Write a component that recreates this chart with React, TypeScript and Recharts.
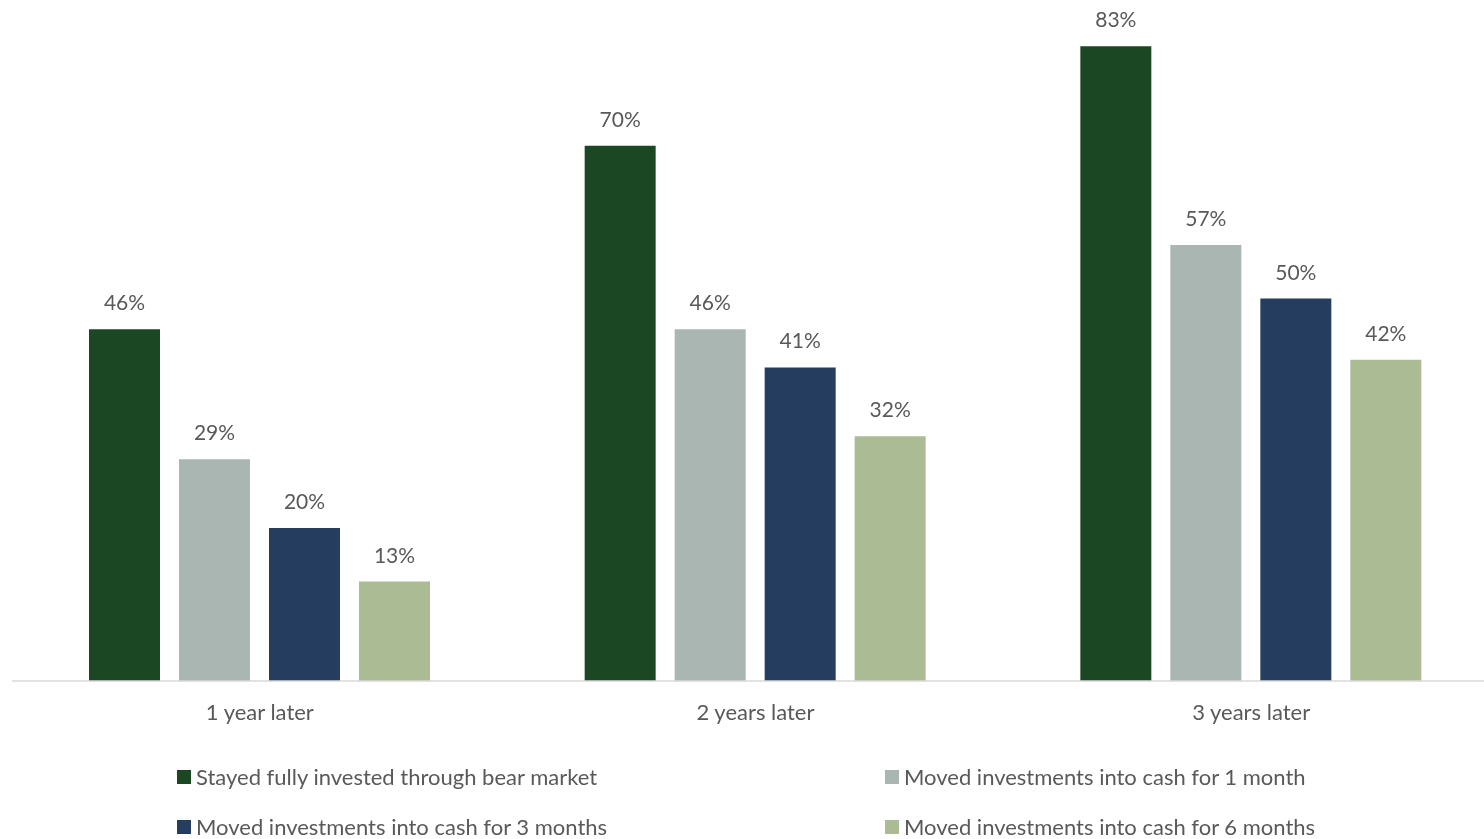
import { BarChart, Bar, XAxis, YAxis, LabelList } from 'recharts'

const categories = ['1 year later', '2 years later', '3 years later']
const stayedInvested = [46, 70, 83]
const cashOneMonth = [29, 46, 57]
const cashThreeMonths = [20, 41, 50]
const cashSixMonths = [13, 32, 42]

const SERIES = [
  { key: 'stayed', name: 'Stayed fully invested through bear market', color: '#1b4723', values: stayedInvested },
  { key: 'one', name: 'Moved investments into cash for 1 month', color: '#aab6b1', values: cashOneMonth },
  { key: 'three', name: 'Moved investments into cash for 3 months', color: '#253e5f', values: cashThreeMonths },
  { key: 'six', name: 'Moved investments into cash for 6 months', color: '#abbb94', values: cashSixMonths },
]

const data = categories.map((name, i) => {
  const row: Record<string, string | number> = { name }
  SERIES.forEach((s) => {
    row[s.key] = s.values[i]
  })
  return row
})

const FONT = 'Lato, "Open Sans", sans-serif'
const TEXT = '#595959'

export default function App() {
  return (
    // chart runs past the window edge on purpose, like the cropped original
    <div style={{ position: 'fixed', left: 8, top: 8, width: 1491, height: 840, fontFamily: FONT }}>
      <style>{'html { overflow: hidden; }'}</style>
      <BarChart
        width={1491}
        height={840}
        data={data}
        margin={{ top: 0, right: 0, bottom: 137, left: 4 }}
        barSize={71}
        barGap={19}
        style={{ overflow: 'visible' }}
      >
        <YAxis hide domain={[0, 88]} />
        <XAxis
          dataKey="name"
          axisLine={{ stroke: '#d9d9d9', strokeWidth: 1.5 }}
          tickLine={false}
          tickMargin={17}
          tick={{ fill: TEXT, fontSize: 22, fontFamily: FONT }}
        />
        {SERIES.map((s) => (
          <Bar key={s.key} dataKey={s.key} name={s.name} fill={s.color} isAnimationActive={false}>
            <LabelList
              dataKey={s.key}
              position="top"
              offset={19}
              formatter={(v: number) => `${v}%`}
              style={{ fill: TEXT, fontSize: 21, fontFamily: FONT }}
            />
          </Bar>
        ))}
      </BarChart>
      {SERIES.map((s, i) => (
        <div
          key={s.key}
          style={{
            position: 'absolute',
            left: i % 2 === 0 ? 169 : 877,
            top: 762 + Math.floor(i / 2) * 50,
            height: 14,
            lineHeight: '14px',
            display: 'flex',
            alignItems: 'center',
            color: TEXT,
            fontSize: 22,
            whiteSpace: 'nowrap',
          }}
        >
          <span style={{ width: 14, height: 14, background: s.color, marginRight: 5, display: 'inline-block' }} />
          <span>{s.name}</span>
        </div>
      ))}
    </div>
  )
}
